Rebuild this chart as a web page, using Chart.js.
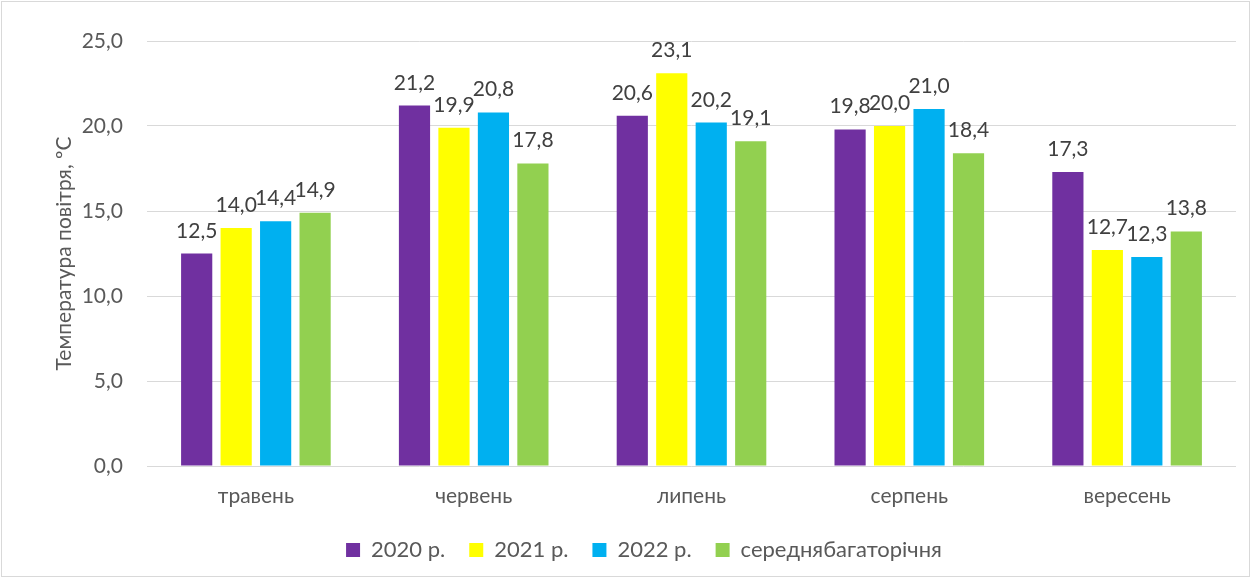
<!DOCTYPE html>
<html>
<head>
<meta charset="utf-8">
<script src="https://cdn.jsdelivr.net/npm/chart.js@4"></script>
<style>
  body { margin: 0; background: #fff; }
</style>
</head>
<body>
<canvas id="chart" width="1252" height="579"></canvas>
<script>
const months = ["травень", "червень", "липень", "серпень", "вересень"];
const series = ["2020 р.", "2021 р.", "2022 р.", "середнябагаторічня"];
const values2020 = [12.5, 21.2, 20.6, 19.8, 17.3];
const values2021 = [14.0, 19.9, 23.1, 20.0, 12.7];
const values2022 = [14.4, 20.8, 20.2, 21.0, 12.3];
const valuesAvg = [14.9, 17.8, 19.1, 18.4, 13.8];
const colors = ["#7030A0", "#FFFF00", "#00B0F0", "#92D050"];
const yTicks = [0, 5, 10, 15, 20, 25];

const fontName = "Lato, 'Open Sans', sans-serif";
const fmt = v => v.toFixed(1).replace(".", ",");

// labels above each bar
const barLabels = {
    id: "barLabels",
    afterDatasetsDraw(chart) {
        const ctx = chart.ctx;
        ctx.save();
        ctx.font = "21px " + fontName;
        ctx.fillStyle = "#404040";
        ctx.textAlign = "center";
        ctx.textBaseline = "alphabetic";
        chart.data.datasets.forEach((ds, i) => {
            chart.getDatasetMeta(i).data.forEach((bar, j) => {
                ctx.fillText(fmt(ds.data[j]), bar.x, bar.y - 16);
            });
        });
        ctx.restore();
    }
};

const frame = {
    id: "frame",
    beforeDraw(chart) {
        const ctx = chart.ctx;
        ctx.save();
        ctx.fillStyle = "#fff";
        ctx.fillRect(0, 0, chart.width, chart.height);
        ctx.strokeStyle = "#d9d9d9";
        ctx.lineWidth = 1;
        ctx.strokeRect(1.5, 1.5, chart.width - 4, chart.height - 4);
        ctx.restore();
    }
};

const allValues = [values2020, values2021, values2022, valuesAvg];

const chart = new Chart(document.getElementById("chart"), {
    type: "bar",
    data: {
        labels: months,
        datasets: series.map((name, i) => ({
            label: name,
            data: allValues[i],
            backgroundColor: colors[i],
            categoryPercentage: 0.725,
            barPercentage: 0.79
        }))
    },
    options: {
        responsive: false,
        animation: false,
        layout: { padding: { left: 52, right: 16, top: 41, bottom: 8 } },
        scales: {
            x: {
                grid: { display: false },
                border: { display: false },
                ticks: { color: "#595959", font: { family: fontName, size: 21 }, padding: 10 },
                afterFit: s => { s.height = 49; }
            },
            y: {
                min: 0,
                max: 25,
                afterBuildTicks: s => { s.ticks = yTicks.map(v => ({ value: v })); },
                grid: { color: "#d9d9d9", drawTicks: false },
                border: { display: false },
                ticks: {
                    color: "#595959",
                    font: { family: fontName, size: 21 },
                    padding: 24,
                    callback: v => fmt(v)
                },
                title: {
                    display: true,
                    text: "Температура повітря, ºC",
                    color: "#595959",
                    font: { family: fontName, size: 21 },
                    padding: 0
                },
                afterFit: s => { s.width = 95; }
            }
        },
        plugins: {
            legend: {
                position: "bottom",
                labels: {
                    color: "#595959",
                    font: { family: fontName, size: 22 },
                    boxWidth: 14,
                    boxHeight: 14,
                    padding: 24
                }
            },
            tooltip: { enabled: false }
        }
    },
    plugins: [frame, barLabels]
});
</script>
</body>
</html>
